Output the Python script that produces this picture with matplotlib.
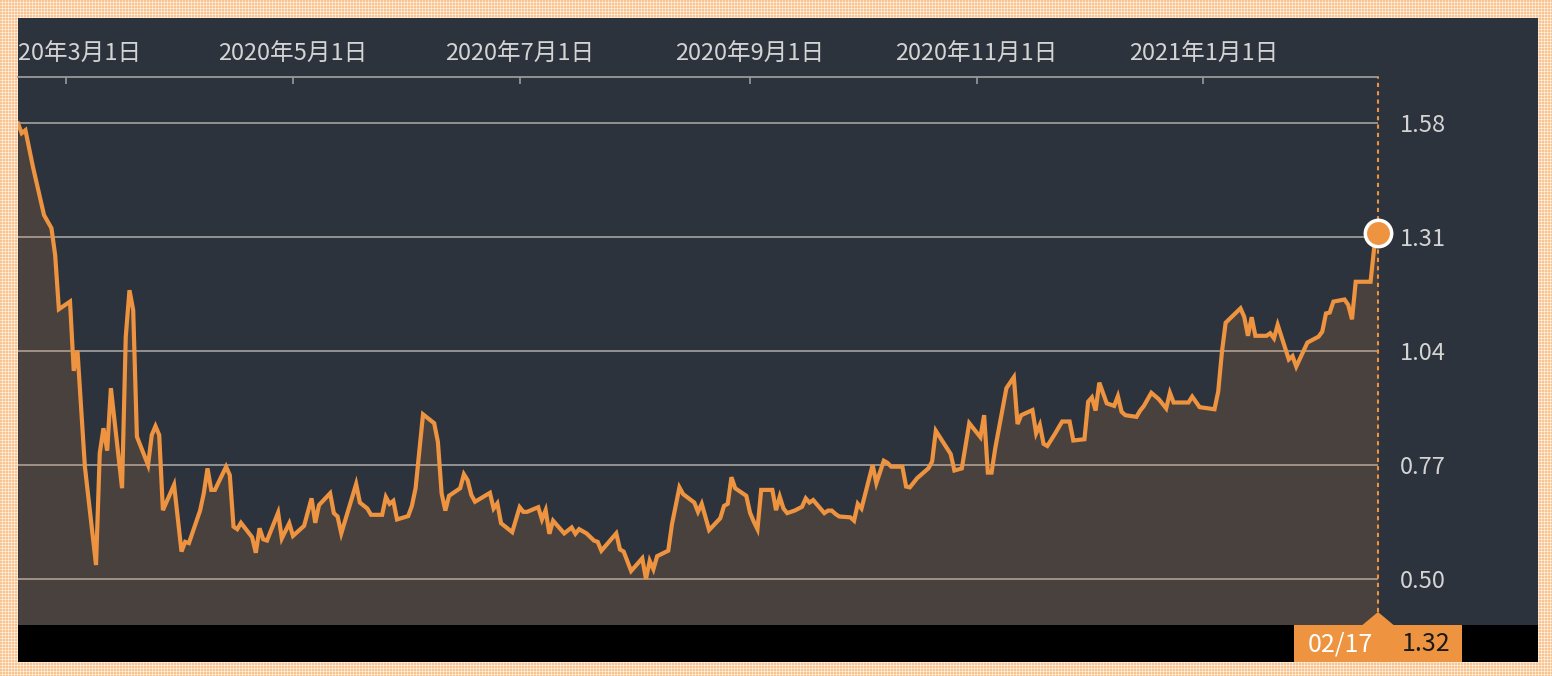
import numpy as np
import matplotlib
matplotlib.use('Agg')
import matplotlib.pyplot as plt
import matplotlib.dates as mdates
from matplotlib.patches import Rectangle, Polygon
from matplotlib.ticker import FuncFormatter
from matplotlib.transforms import Bbox, TransformedBbox, blended_transform_factory

plt.rcParams['font.family'] = ['Noto Sans CJK JP', 'DejaVu Sans']

# data: days after start date, and the value on that day
start = np.datetime64('2020-02-17')
end = np.datetime64('2021-02-17')
day_offsets = [
    0, 1, 2, 4, 7, 9, 10, 11, 14, 15,
    16, 18, 21, 22, 23, 24, 25, 28, 29, 30,
    31, 32, 35, 36, 37, 38, 39, 42, 44, 45,
    46, 49, 50, 51, 52, 53, 56, 57, 58, 59,
    60, 63, 64, 65, 66, 67, 70, 71, 73, 74,
    77, 79, 80, 81, 84, 85, 86, 87, 91, 92,
    94, 95, 98, 99, 100, 101, 102, 105, 106, 107,
    109, 112, 113, 114, 115, 116, 119, 120, 121, 122,
    123, 127, 128, 129, 130, 133, 135, 136, 137, 140,
    141, 142, 143, 144, 147, 149, 150, 151, 153, 155,
    156, 157, 161, 162, 163, 165, 168, 169, 170, 171,
    172, 175, 176, 178, 179, 182, 183, 184, 186, 189,
    190, 191, 192, 193, 196, 197, 198, 199, 200, 203,
    204, 205, 206, 207, 209, 211, 212, 213, 214, 217,
    218, 219, 220, 221, 224, 225, 226, 227, 230, 231,
    233, 234, 235, 238, 239, 240, 242, 245, 246, 247,
    251, 252, 254, 256, 259, 260, 261, 262, 263, 266,
    268, 269, 270, 273, 274, 275, 276, 277, 279, 281,
    283, 284, 287, 288, 289, 290, 291, 293, 295, 296,
    297, 298, 301, 302, 303, 305, 307, 309, 310, 311,
    315, 316, 318, 322, 323, 324, 325, 329, 330, 331,
    332, 333, 336, 337, 338, 339, 342, 343, 344, 347,
    350, 351, 352, 353, 354, 357, 358, 359, 360, 364,
    365, 366,
]
values = [
    1.579, 1.556, 1.563, 1.477, 1.362, 1.331, 1.267, 1.139, 1.157, 0.993,
    1.041, 0.766, 0.533, 0.798, 0.857, 0.804, 0.952, 0.715, 1.074, 1.184,
    1.137, 0.837, 0.770, 0.841, 0.862, 0.841, 0.663, 0.723, 0.565, 0.588,
    0.585, 0.662, 0.703, 0.762, 0.711, 0.711, 0.766, 0.746, 0.624, 0.618,
    0.633, 0.599, 0.562, 0.620, 0.594, 0.591, 0.657, 0.596, 0.632, 0.602,
    0.626, 0.691, 0.633, 0.675, 0.703, 0.656, 0.648, 0.608, 0.725, 0.681,
    0.667, 0.652, 0.652, 0.694, 0.678, 0.685, 0.641, 0.649, 0.673, 0.715,
    0.890, 0.869, 0.825, 0.703, 0.662, 0.697, 0.715, 0.748, 0.734, 0.699,
    0.683, 0.704, 0.667, 0.679, 0.632, 0.611, 0.670, 0.659, 0.659, 0.670,
    0.641, 0.663, 0.607, 0.638, 0.608, 0.622, 0.607, 0.618, 0.608, 0.591,
    0.588, 0.567, 0.608, 0.570, 0.565, 0.519, 0.549, 0.500, 0.543, 0.523,
    0.554, 0.567, 0.630, 0.717, 0.701, 0.681, 0.659, 0.678, 0.616, 0.644,
    0.673, 0.678, 0.741, 0.715, 0.697, 0.657, 0.636, 0.618, 0.711, 0.711,
    0.663, 0.695, 0.667, 0.656, 0.662, 0.671, 0.691, 0.681, 0.687, 0.656,
    0.662, 0.662, 0.654, 0.648, 0.646, 0.638, 0.678, 0.667, 0.770, 0.727,
    0.780, 0.775, 0.766, 0.766, 0.719, 0.717, 0.739, 0.762, 0.778, 0.851,
    0.796, 0.757, 0.762, 0.869, 0.836, 0.888, 0.752, 0.752, 0.810, 0.952,
    0.978, 0.867, 0.888, 0.900, 0.845, 0.865, 0.820, 0.815, 0.843, 0.873,
    0.873, 0.828, 0.831, 0.920, 0.930, 0.899, 0.965, 0.916, 0.910, 0.933,
    0.896, 0.888, 0.884, 0.899, 0.910, 0.941, 0.926, 0.904, 0.941, 0.918,
    0.918, 0.932, 0.907, 0.902, 0.944, 1.038, 1.107, 1.141, 1.121, 1.076,
    1.120, 1.076, 1.076, 1.082, 1.070, 1.102, 1.020, 1.028, 1.003, 1.060,
    1.074, 1.086, 1.129, 1.131, 1.157, 1.162, 1.149, 1.115, 1.204, 1.204,
    1.287, 1.319,
]
y_ticks = [0.50, 0.77, 1.04, 1.31, 1.58]
x_ticks = ['2020-03-01', '2020-05-01', '2020-07-01', '2020-09-01', '2020-11-01', '2021-01-01']

dates = start + np.array(day_offsets).astype('timedelta64[D]')

ORANGE = '#ee9440'
DARK = '#2d333d'
TXT = '#d4d4d4'
FS = 17
W, H = 1552, 676

fig = plt.figure(figsize=(W / 100, H / 100), dpi=100)

# checkered orange border
r = np.arange(H)[:, None] % 3 != 2
c = np.arange(W)[None, :] % 3 != 2
both = (r & c)[..., None]
one = (r ^ c)[..., None]
bg = np.where(both, [248, 196, 146], np.where(one, [252, 222, 192], [255, 245, 235])) / 255.0
fig.figimage(bg, xo=0, yo=0, origin='upper', zorder=-3)

def fx(px):
    return px / W

def fy(py):
    return 1 - py / H

fig.add_artist(Rectangle((fx(18), fy(625)), fx(1520), 607 / H, transform=fig.transFigure,
                         facecolor=DARK, edgecolor='none', zorder=-2))
fig.add_artist(Rectangle((fx(18), fy(662)), fx(1520), 37 / H, transform=fig.transFigure,
                         facecolor='black', edgecolor='none', zorder=2))

ax = fig.add_axes([fx(18), fy(625), fx(1360), 548 / H])
ax.set_facecolor('none')
ax.set_xlim(start, end)
ax.set_ylim(0.391, 1.689)

ax.plot(dates, values, color=ORANGE, lw=3, solid_joinstyle='miter', zorder=3)
ax.fill_between(dates, values, 0.391, color=ORANGE, alpha=0.15, lw=0, zorder=2)
ax.plot(dates[-1], values[-1], 'o', ms=19, mfc=ORANGE, mec='white', mew=2.5, zorder=6, clip_on=False)
ax.axvline(end, ymin=13 / 548, ymax=1, color=ORANGE, lw=1.5, dashes=(2, 2), zorder=4, clip_on=False)

# little pointer above the date box
tr = blended_transform_factory(ax.transData, ax.transAxes)
e = mdates.date2num(end)
ax.add_patch(Polygon([[e - 4.2, 0], [e + 4.2, 0], [e, 13 / 548]], closed=True, transform=tr,
                     facecolor=ORANGE, edgecolor='none', clip_on=False, zorder=5))

# y axis on the right
ax.yaxis.tick_right()
ax.set_yticks(y_ticks)
ax.yaxis.set_major_formatter(FuncFormatter(lambda v, p: f'{v:.2f}'))
ax.tick_params(axis='y', length=0, pad=16, labelsize=FS, labelcolor=TXT)
ax.grid(axis='y', color='#9a9a9a', lw=1.3)
ax.set_axisbelow(True)

# x axis on top
ax.xaxis.tick_top()
ax.set_xticks([np.datetime64(d) for d in x_ticks])
ax.xaxis.set_major_formatter(FuncFormatter(
    lambda v, p: '{0}年{1}月{2}日'.format(mdates.num2date(v).year, mdates.num2date(v).month, mdates.num2date(v).day)))
ax.tick_params(axis='x', direction='in', length=5, width=1.2, color='#9a9a9a', pad=8,
               labelsize=FS, labelcolor=TXT)

for s in ['left', 'right', 'bottom']:
    ax.spines[s].set_visible(False)
ax.spines['top'].set_color('#9a9a9a')
ax.spines['top'].set_linewidth(1.3)

# the first date label runs off the left edge of the panel, as in the original
clip = TransformedBbox(Bbox.from_extents(fx(18), fy(625), fx(1538), fy(18)), fig.transFigure)
for lbl in ax.get_xticklabels():
    lbl.set_clip_on(True)
    lbl.set_clip_box(clip)

# date/value box at the bottom
fig.add_artist(Rectangle((fx(1294), fy(662)), fx(168), 37 / H, transform=fig.transFigure,
                         facecolor=ORANGE, edgecolor='none', zorder=3))
last_date = dates[-1].astype(object)
fig.text(fx(1340), fy(644), last_date.strftime('%m/%d'), color='white', fontsize=FS + 1,
         ha='center', va='center', zorder=4)
fig.text(fx(1426), fy(644), f'{values[-1]:.2f}', color='#1a1a1a', fontsize=FS + 1,
         ha='center', va='center', zorder=4)

fig.savefig('out.png', dpi=100)
